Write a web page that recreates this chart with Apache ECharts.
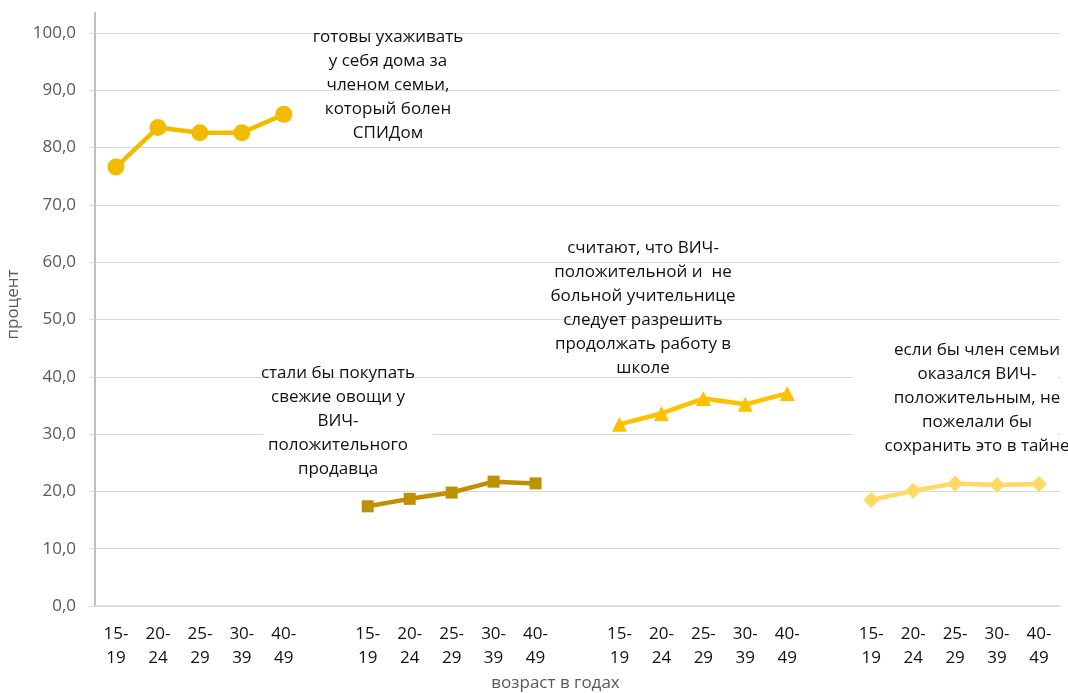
<!doctype html>
<html>
<head>
<meta charset="UTF-8">
<title>возраст в годах</title>
<script src="https://cdn.jsdelivr.net/npm/echarts@6/dist/echarts.min.js"></script>
<style>
  html, body { margin: 0; padding: 0; background: #fff; }
  #chart { width: 1068px; height: 693px; }
</style>
</head>
<body>
<div id="chart"></div>
<script>
// категории: 4 группы по 5 возрастов, между группами пустая ячейка
var ages = ['15-\n19', '20-\n24', '25-\n29', '30-\n39', '40-\n49'];
var categories = [].concat(ages, [''], ages, [''], ages, [''], ages);

// значения (процент)
var careAtHome  = [76.6, 83.5, 82.6, 82.6, 85.8];
var buyVeg      = [17.4, 18.7, 19.8, 21.7, 21.4];
var teacherWork = [31.7, 33.6, 36.2, 35.2, 37.1];
var noSecret    = [18.5, 20.1, 21.4, 21.1, 21.3];

var yTicks = { min: 0, max: 100, step: 10 };

// расставить группу по своей позиции на оси
function place(vals, group) {
  var out = [];
  for (var i = 0; i < categories.length; i++) out.push(null);
  for (var j = 0; j < vals.length; j++) out[group * 6 + j] = vals[j];
  return out;
}

var font = 'Open Sans';
var myChart = echarts.init(document.getElementById('chart'));

function mkSeries(vals, group, color, symbol, size) {
  return {
    type: 'line',
    data: place(vals, group),
    connectNulls: false,
    symbol: symbol,
    symbolSize: size,
    lineStyle: { color: color, width: 4.5 },
    itemStyle: { color: color },
    z: 5
  };
}

function note(x, top, text) {
  return {
    type: 'text', x: x, y: top, z: 10,
    style: {
      text: text, fill: '#111', font: '17px "' + font + '"',
      align: 'center', verticalAlign: 'top', lineHeight: 24
    }
  };
}
function whiteBox(x1, y1, x2, y2) {
  return {
    type: 'rect', z: 1,
    shape: { x: x1, y: y1, width: x2 - x1, height: y2 - y1 },
    style: { fill: '#fff' }
  };
}

var option = {
  animation: false,
  textStyle: { fontFamily: font },
  grid: { left: 95, right: 8, top: 33, bottom: 87, containLabel: false, outerBoundsMode: 'none' },
  xAxis: {
    type: 'category',
    data: categories,
    name: 'возраст в годах',
    nameLocation: 'middle',
    nameGap: 67,
    nameTextStyle: { color: '#595959', fontSize: 17, padding: [0, 44, 0, 0] },
    axisLine: { lineStyle: { color: '#d9d9d9', width: 1.5 } },
    axisTick: { length: 6, lineStyle: { color: '#d9d9d9' } },
    axisLabel: { interval: 0, color: '#111', fontSize: 17, lineHeight: 24, margin: 16 }
  },
  yAxis: {
    type: 'value',
    min: yTicks.min, max: yTicks.max, interval: yTicks.step,
    name: 'процент',
    nameLocation: 'middle',
    nameGap: 68,
    nameTextStyle: { color: '#595959', fontSize: 17, padding: [0, 0, 0, 30] },
    axisLine: { show: true, lineStyle: { color: '#bfbfbf', width: 2 } },
    axisTick: { show: true, length: 6, lineStyle: { color: '#d9d9d9' } },
    axisLabel: {
      color: '#595959', fontSize: 17, margin: 19,
      formatter: function (v) { return v.toFixed(1).replace('.', ','); }
    },
    splitLine: { lineStyle: { color: '#d9d9d9', width: 1 } }
  },
  series: [
    mkSeries(careAtHome, 0, '#F2BB00', 'circle', 17),
    mkSeries(buyVeg, 1, '#BF9000', 'rect', 12),
    mkSeries(teacherWork, 2, '#FFC000', 'triangle', 15),
    mkSeries(noSecret, 3, '#FFD966', 'diamond', 16)
  ],
  graphic: [
    // продолжение оси Y над областью построения
    { type: 'line', z: 1, shape: { x1: 95, y1: 12, x2: 95, y2: 33 },
      style: { stroke: '#bfbfbf', lineWidth: 2 } },
    whiteBox(263, 380, 433, 478),
    whiteBox(853, 340, 1058, 462),
    note(388, 25, 'готовы ухаживать\nу себя дома за\nчленом семьи,\nкоторый болен\nСПИДом'),
    note(338, 361, 'стали бы покупать\nсвежие овощи у\nВИЧ-\nположительного\nпродавца'),
    note(643, 236, 'считают, что ВИЧ-\nположительной и  не\nбольной учительнице\nследует разрешить\nпродолжать работу в\nшколе'),
    note(977, 338, 'если бы член семьи\nоказался ВИЧ-\nположительным, не\nпожелали бы\nсохранить это в тайне')
  ]
};
myChart.setOption(option);
</script>
</body>
</html>
